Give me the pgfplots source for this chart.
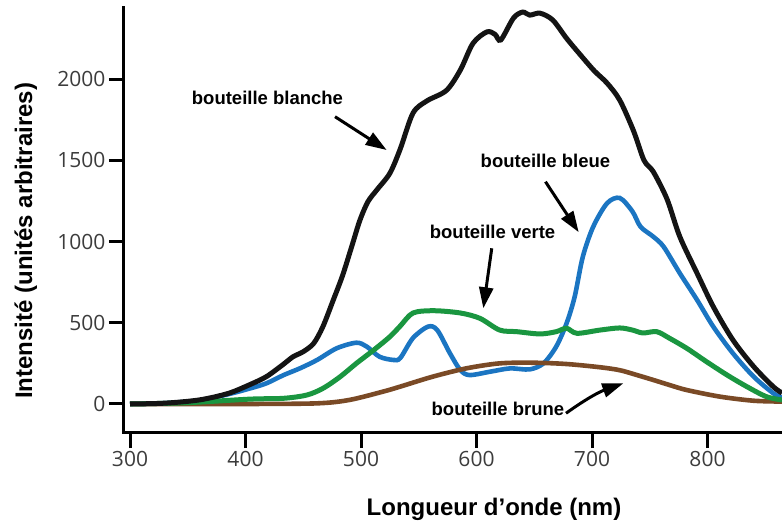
\documentclass[border=0pt]{standalone}
\usepackage{fontspec}
\setmainfont{Liberation Sans}
\newfontfamily\tickfont{Open Sans}
\usepackage{pgfplots}
\pgfplotsset{compat=1.18}
\usetikzlibrary{arrows.meta}
\definecolor{cblue}{RGB}{27,117,194}
\definecolor{cgreen}{RGB}{26,150,64}
\definecolor{cbrown}{RGB}{122,74,38}
\definecolor{cblack}{RGB}{20,20,20}
\definecolor{tickgray}{RGB}{60,60,60}
\begin{document}
\begin{tikzpicture}
\begin{axis}[
  scale only axis, width=658pt, height=425pt,
  xmin=294.8, xmax=864.5, ymin=-178.5, ymax=2437,
  axis x line*=bottom, axis y line*=left,
  axis line style={line width=3pt, black, line cap=rect},
  xtick={300,400,500,600,700,800},
  ytick={0,500,1000,1500,2000},
  tick align=outside, major tick length=15pt,
  tick style={line width=3pt, black},
  scaled y ticks=false, scaled x ticks=false,
  /pgf/number format/assume math mode=true,
  /pgf/number format/1000 sep={},
  ticklabel style={font=\tickfont\fontsize{21}{24}\selectfont, text=tickgray},
  xlabel={Longueur d’onde (nm)},
  xlabel style={at={(axis description cs:0.5623,-0.195)}, anchor=base, font=\bfseries\fontsize{24}{28}\selectfont},
  ylabel={Intensité (unités arbitraires)},
  ylabel style={at={(axis description cs:-0.1398,0.452)}, anchor=base, font=\bfseries\fontsize{24}{28}\selectfont},
]
\coordinate (O) at (rel axis cs:0,0);
% bleue
\addplot[cblue, line width=4.6pt, smooth] coordinates {
(300,0) (330,5) (360,22) (385,60) (404,96) (418,127) (433,178) (447,219) (462,271) (479,343) (496,377) (505,353) (516,291) (528,271) (534,283) (545,406) (558,476) (566,455) (577,312) (586,209) (594,178) (612,199) (629,219) (646,213) (658,250) (669,353) (678,497) (685,660) (692,905) (701,1090) (713,1235) (724,1268) (735,1185) (742,1091) (753,1030) (762,968) (776,805) (791,640) (805,476) (822,312) (840,168) (857,66) (864.5,40)
};
% brune
\addplot[cbrown, line width=4.6pt, smooth] coordinates {
(300,0) (400,0) (462,4) (490,25) (519,76) (534,107) (562,168) (591,219) (620,250) (649,254) (678,246) (707,226) (724,208) (738,180) (753,148) (767,117) (782,86) (811,45) (840,20) (864.5,15)
};
% verte
\addplot[cgreen, line width=5pt, smooth] coordinates {
(300,0) (350,8) (404,30) (433,35) (453,55) (467,96) (482,168) (496,250) (511,332) (525,414) (534,480) (545,560) (563,574) (586,560) (603,527) (620,455) (635,445) (655,431) (669,445) (678,466) (687,435) (707,455) (724,468) (735,455) (744,437) (756,445) (767,405) (782,343) (799,261) (817,178) (834,107) (851,45) (864.5,25)
};
% blanche
\addplot[cblack, line width=5pt, smooth] coordinates {
(300,0) (330,5) (360,25) (385,65) (404,120) (418,168) (432,240) (441,290) (450,322) (459,373) (467,476) (476,640) (484,790) (492,970) (499,1130) (506,1245) (514,1320) (525,1420) (534,1570) (545,1790) (557,1865) (574,1930) (586,2055) (597,2220) (609,2290) (616,2275) (621,2240) (632,2375) (640,2412) (646,2393) (655,2405) (666,2363) (678,2250) (690,2148) (702,2050) (713,1975) (724,1870) (736,1680) (745,1500) (753,1430) (765,1260) (776,1030) (791,804) (805,599) (822,394) (840,230) (857,106) (864.5,68)
};
\begin{scope}[font=\bfseries\fontsize{18.5}{21}\selectfont]
\node at (axis cs:419,1882) {bouteille blanche};
\node at (axis cs:659.7,1497) {bouteille bleue};
\node at (axis cs:613.9,1058) {bouteille verte};
\node at (axis cs:618.6,-29) {bouteille brune};
\end{scope}
\begin{scope}[line width=3pt, -{Triangle[length=21pt,width=14pt]}]
\draw (axis cs:477.5,1768) -- (axis cs:522.2,1563);
\draw (axis cs:659.7,1368) -- (axis cs:688.5,1057);
\draw (axis cs:613.2,958) -- (axis cs:605.9,589);
\draw (axis cs:677.5,-57) to[bend left=8] (axis cs:727.1,127);
\end{scope}
\end{axis}
\pgfresetboundingbox
\path (O) ++(-124pt,-88pt) rectangle ++(782pt,521pt);
\end{tikzpicture}
\end{document}
